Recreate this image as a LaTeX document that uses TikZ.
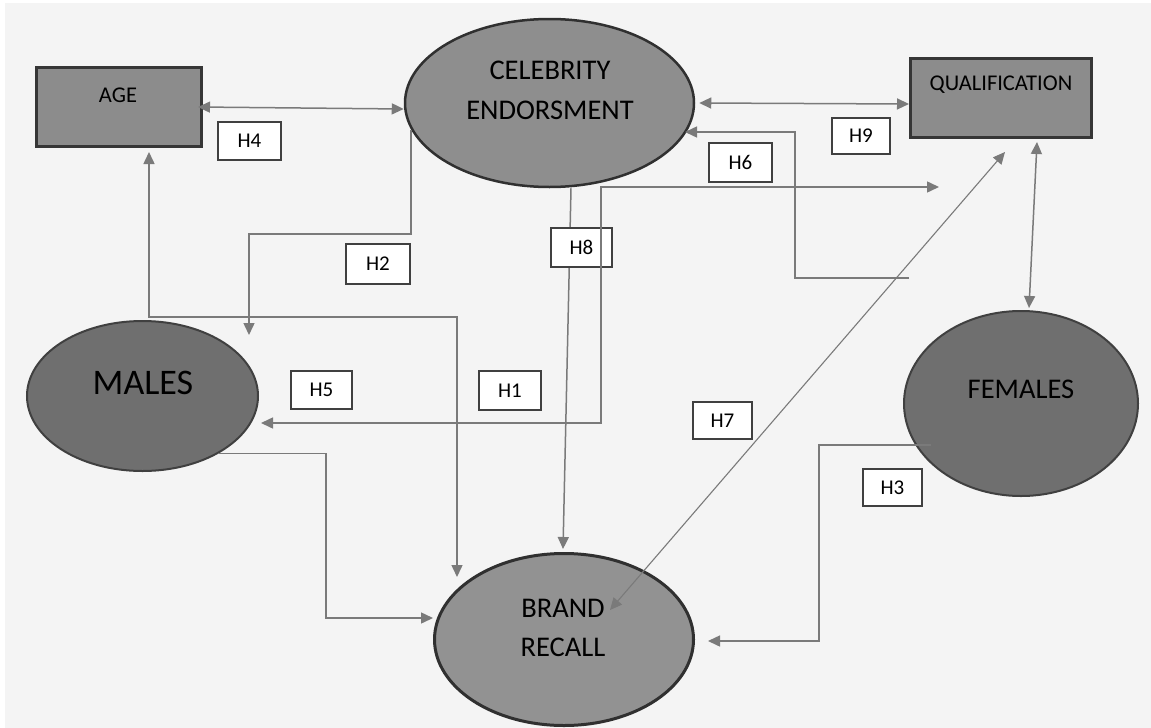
\documentclass[tikz,border=0pt]{standalone}
\usepackage{fontspec}
\setmainfont{Carlito}
\usetikzlibrary{arrows.meta,shapes.geometric}
\definecolor{bgc}{HTML}{F4F4F4}
\definecolor{rectfill}{HTML}{8C8C8C}
\definecolor{rectline}{HTML}{363636}
\definecolor{celfill}{HTML}{8E8E8E}
\definecolor{darkfill}{HTML}{6F6F6F}
\definecolor{brandfill}{HTML}{929292}
\definecolor{shapeline}{HTML}{303030}
\definecolor{conn}{HTML}{7A7A7A}
\definecolor{hline}{HTML}{404040}
\tikzset{
  varbox/.style={rectangle,draw=rectline,line width=3pt,fill=rectfill,inner sep=0pt},
  varoval/.style={ellipse,draw=shapeline,line width=2.5pt,inner sep=0pt},
  hbox/.style={rectangle,draw=hline,line width=1.2pt,fill=white,inner sep=0pt,font=\fontsize{21}{24}\selectfont},
  txt/.style={inner sep=0pt,align=center,text=black},
  conline/.style={draw=conn,line width=1.5pt},
  arr/.style={conline,-{Triangle[length=12pt,width=11pt]}},
  darr/.style={conline,{Triangle[length=12pt,width=11pt]}-{Triangle[length=12pt,width=11pt]}}
}
\begin{document}
\begin{tikzpicture}[x=1pt,y=-1pt]
\useasboundingbox (0,0) rectangle (1151,728);
\fill[white] (0,0) rectangle (1151,728);
\fill[bgc] (5,3) rectangle (1151,728);

% shapes
\node[varbox,minimum width=165pt,minimum height=79pt] (age) at (119,107) {};
\node[txt,font=\fontsize{22.5}{26}\selectfont] (ageT) at (118,95) {AGE};
\node[varbox,minimum width=181pt,minimum height=79pt] (qual) at (1001,98) {};
\node[txt,font=\fontsize{22.5}{26}\selectfont] (qualT) at (1001,85) {QUALIFICATION};
\node[varoval,fill=celfill,minimum width=289pt,minimum height=168pt] (cel) at (549.5,103) {};
\node[txt,font=\fontsize{28.5}{40}\selectfont] (celT) at (550,90) {CELEBRITY\\ENDORSMENT};
\node[varoval,fill=darkfill,line width=2pt,draw=hline,minimum width=231pt,minimum height=150pt] (males) at (142.5,396) {};
\node[txt,font=\fontsize{36}{40}\selectfont] (malesT) at (143,383) {MALES};
\node[varoval,fill=darkfill,line width=2pt,draw=hline,minimum width=234pt,minimum height=185pt] (fem) at (1021,403.5) {};
\node[txt,font=\fontsize{28.5}{34}\selectfont] (femT) at (1021,389) {FEMALES};
\node[varoval,fill=brandfill,line width=3pt,draw=shapeline,minimum width=259pt,minimum height=172pt] (brand) at (564,639.5) {};
\node[txt,font=\fontsize{28.5}{39}\selectfont] (brandT) at (563,627.5) {BRAND\\RECALL};

% free coordinates
\coordinate (h2bend) at (249,234);
\coordinate (h2end) at (249,335);
\coordinate (abbend) at (457,317);
\coordinate (abend) at (457,577);
\coordinate (mbbend) at (326,618);
\coordinate (m1) at (261,423);
\coordinate (m2) at (601,187);
\coordinate (m3) at (939,187);
\coordinate (q1) at (909,278);
\coordinate (q2) at (795,132);
\coordinate (c6) at (685,132);
\coordinate (f2) at (819,641);
\coordinate (f3) at (708,641);

% connectors
\draw[darr] ([xshift=-5pt]age.east) -- ([yshift=-6pt]cel.west);
\draw[arr] (cel.191.5) |- (h2bend) -- (h2end);
\draw[darr] ([xshift=30pt,yshift=-4pt]age.south) |- (abbend) -- (abend);
\draw[arr] (males.-37.6) -| (mbbend) -- (mbbend -| brand.west);
\draw[arr] ([xshift=21.5pt]cel.south) -- ([xshift=-1pt,yshift=3pt]brand.north);
\draw[arr] (q1) -| (q2) -- (c6);
\draw[darr] ([xshift=4pt]cel.east) -- ([yshift=-6pt]qual.west);
\draw[darr] ([xshift=36pt,yshift=-3pt]qual.south) -- ([xshift=8pt,yshift=2pt]fem.north);
\draw[darr,line width=1.1pt] ([xshift=46pt,yshift=29.5pt]brand.center) -- ([xshift=4pt,yshift=-13pt]qual.south);
\draw[arr] ([xshift=-90pt,yshift=-41.5pt]fem.center) -| (f2) -- (f3);

% hypothesis labels
\node[hbox,minimum width=63pt,minimum height=38pt] (h4) at (249.5,141) {H4};
\node[hbox,minimum width=64pt,minimum height=40pt] (h2) at (378,264) {H2};
\node[hbox,minimum width=61pt,minimum height=39pt] (h8) at (581.5,247.5) {H8};
\node[hbox,minimum width=63pt,minimum height=39pt] (h6) at (740.5,162.5) {H6};
\node[hbox,minimum width=58pt,minimum height=36pt] (h9) at (861,136) {H9};
\node[hbox,minimum width=61pt,minimum height=38pt] (h5) at (321.5,390) {H5};
\node[hbox,minimum width=62pt,minimum height=39pt] (h1) at (510,390.5) {H1};
\node[hbox,minimum width=59pt,minimum height=37pt] (h7) at (722.5,420.5) {H7};
\node[hbox,minimum width=59pt,minimum height=37pt] (h3) at (892.5,487.5) {H3};

% connector passing over the H8 box
\draw[darr] (m1) -| (m2) -- (m3);
\end{tikzpicture}
\end{document}
